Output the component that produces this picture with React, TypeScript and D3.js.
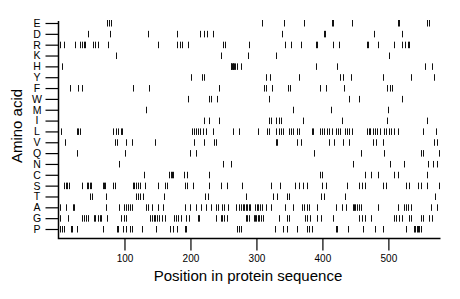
import React, { useEffect, useRef } from 'react';
import * as d3 from 'd3';

// amino acids, top to bottom
const aminoAcids = ['E', 'D', 'R', 'K', 'H', 'Y', 'F', 'W', 'M', 'I', 'L', 'V', 'Q', 'N', 'C', 'S', 'T', 'A', 'G', 'P'];
const xTicks = [100, 200, 300, 400, 500];
const seqLength = 579;

// positions where each residue occurs
const posE = [74, 76, 79, 309, 342, 372, 414, 416, 445, 514, 516, 559, 561];
const posD = [44, 78, 136, 179, 215, 220, 225, 234, 339, 402, 404, 478, 520];
const posR = [2, 8, 25, 32, 36, 39, 40, 52, 56, 60, 75, 151, 180, 184, 187, 196, 249, 253, 289, 344, 352, 367, 390, 392, 416, 425, 467, 469, 484, 509, 521, 525, 529, 532];
const posK = [87, 246, 287, 329, 501];
const posH = [6, 261, 262, 263, 264, 265, 266, 268, 270, 276, 390, 422, 556, 566];
const posY = [201, 217, 221, 315, 320, 364, 427, 431, 444, 492, 534, 569];
const posF = [18, 30, 36, 113, 137, 244, 311, 314, 323, 348, 351, 397, 406, 432, 498, 502, 505];
const posW = [197, 228, 231, 240, 319, 441, 455, 520];
const posM = [133, 356, 413, 499];
const posI = [220, 228, 243, 319, 322, 330, 334, 338, 370, 429, 498, 559];
const posL = [4, 28, 30, 32, 83, 87, 90, 94, 97, 202, 205, 208, 211, 214, 219, 224, 234, 264, 274, 302, 316, 319, 330, 334, 337, 341, 349, 352, 356, 361, 364, 384, 386, 397, 400, 403, 407, 410, 414, 420, 424, 427, 434, 437, 441, 445, 468, 470, 472, 476, 479, 483, 487, 494, 497, 501, 504, 508, 514, 552, 572];
const posV = [10, 85, 88, 102, 111, 146, 205, 221, 236, 238, 329, 331, 361, 367, 410, 417, 431, 440, 477, 481, 492, 569, 573];
const posQ = [28, 101, 200, 209, 387, 458, 493, 549, 552, 577];
const posN = [92, 249, 262, 446, 503, 524, 560, 567, 574];
const posC = [130, 168, 170, 172, 174, 190, 195, 228, 396, 400, 464, 474, 484, 508, 514, 558];
const posS = [9, 11, 13, 16, 35, 43, 45, 47, 50, 67, 69, 71, 83, 85, 113, 115, 117, 120, 123, 131, 151, 161, 164, 191, 195, 204, 228, 246, 256, 278, 322, 336, 359, 364, 371, 377, 400, 406, 437, 456, 460, 464, 492, 497, 526, 531, 545, 549, 559, 577];
const posT = [48, 51, 72, 118, 121, 123, 128, 160, 222, 226, 284, 325, 331, 346, 350, 398, 402, 435, 571];
const posA = [3, 12, 22, 24, 72, 92, 100, 103, 106, 108, 112, 133, 136, 141, 151, 159, 191, 200, 208, 216, 223, 231, 238, 241, 248, 251, 257, 269, 274, 276, 279, 281, 284, 286, 289, 291, 298, 301, 303, 306, 308, 315, 322, 344, 356, 369, 372, 376, 379, 392, 421, 429, 436, 446, 448, 450, 452, 455, 459, 484, 515, 524, 527, 530, 534, 564, 574];
const posG = [3, 15, 35, 39, 41, 44, 54, 56, 60, 63, 65, 73, 95, 100, 103, 138, 141, 144, 147, 150, 153, 157, 162, 175, 178, 181, 185, 193, 198, 211, 213, 238, 246, 248, 251, 255, 284, 286, 289, 296, 298, 300, 302, 304, 307, 310, 334, 347, 350, 374, 377, 381, 392, 398, 416, 456, 460, 464, 473, 508, 512, 516, 521, 532, 534, 549, 552, 561, 566];
const posP = [3, 5, 8, 19, 21, 28, 68, 88, 90, 98, 103, 108, 111, 126, 148, 169, 174, 179, 191, 194, 270, 274, 277, 328, 340, 346, 361, 376, 379, 384, 420, 422, 439, 462, 479, 492, 527, 539, 541, 543, 545, 547, 549];

const positions = {
  E: posE, D: posD, R: posR, K: posK, H: posH, Y: posY, F: posF, W: posW, M: posM, I: posI,
  L: posL, V: posV, Q: posQ, N: posN, C: posC, S: posS, T: posT, A: posA, G: posG, P: posP,
};

const W = 460, H = 299;
const FONT = 'Liberation Sans, Arial, Helvetica, sans-serif';

const App = () => {
  const ref = useRef(null);

  useEffect(() => {
    const svg = d3.select(ref.current);
    svg.selectAll('*').remove();

    const x = d3.scaleLinear().domain([0, seqLength]).range([58.5, 440.5]);
    const y = d3.scalePoint().domain(aminoAcids).range([23, 229]);
    const bottom = 238.5;

    // marks
    const g = svg.append('g');
    aminoAcids.forEach(aa => {
      g.selectAll(null)
        .data(positions[aa])
        .enter()
        .append('rect')
        .attr('x', d => Math.round(x(d)))
        .attr('y', y(aa) - 3)
        .attr('width', 1)
        .attr('height', 6.5)
        .attr('fill', '#111');
    });

    // y axis
    const yAxis = svg.append('g')
      .attr('transform', 'translate(58.5,0)')
      .call(d3.axisLeft(y).tickSize(13).tickSizeOuter(0));
    yAxis.select('.domain').remove();
    yAxis.selectAll('line').attr('stroke', '#000').attr('stroke-width', 1.2);
    yAxis.selectAll('text')
      .attr('x', -21.5)
      .attr('text-anchor', 'middle')
      .attr('font-family', FONT)
      .attr('font-size', 10.5)
      .attr('fill', '#000');

    // x axis
    const xAxis = svg.append('g')
      .attr('transform', `translate(0,${bottom})`)
      .call(d3.axisBottom(x).tickValues(xTicks).tickSize(12).tickSizeOuter(0).tickPadding(4));
    xAxis.select('.domain').remove();
    xAxis.selectAll('line').attr('stroke', '#000').attr('stroke-width', 1.2);
    xAxis.selectAll('text')
      .attr('font-family', FONT)
      .attr('font-size', 10)
      .attr('fill', '#000');

    // frame
    svg.append('path')
      .attr('d', `M58.5,21V${bottom}H440.5`)
      .attr('fill', 'none')
      .attr('stroke', '#000')
      .attr('stroke-width', 1.5);

    // titles
    svg.append('text')
      .attr('x', 248)
      .attr('y', 281)
      .attr('text-anchor', 'middle')
      .attr('font-family', FONT)
      .attr('font-size', 15)
      .text('Position in protein sequence');

    svg.append('text')
      .attr('transform', 'translate(22,126) rotate(-90)')
      .attr('text-anchor', 'middle')
      .attr('font-family', FONT)
      .attr('font-size', 15)
      .text('Amino acid');
  }, []);

  return (
    <svg ref={ref} width={W} height={H}
      style={{ position: 'absolute', left: 0, top: 0, background: '#fff' }} />
  );
};

export default App;
